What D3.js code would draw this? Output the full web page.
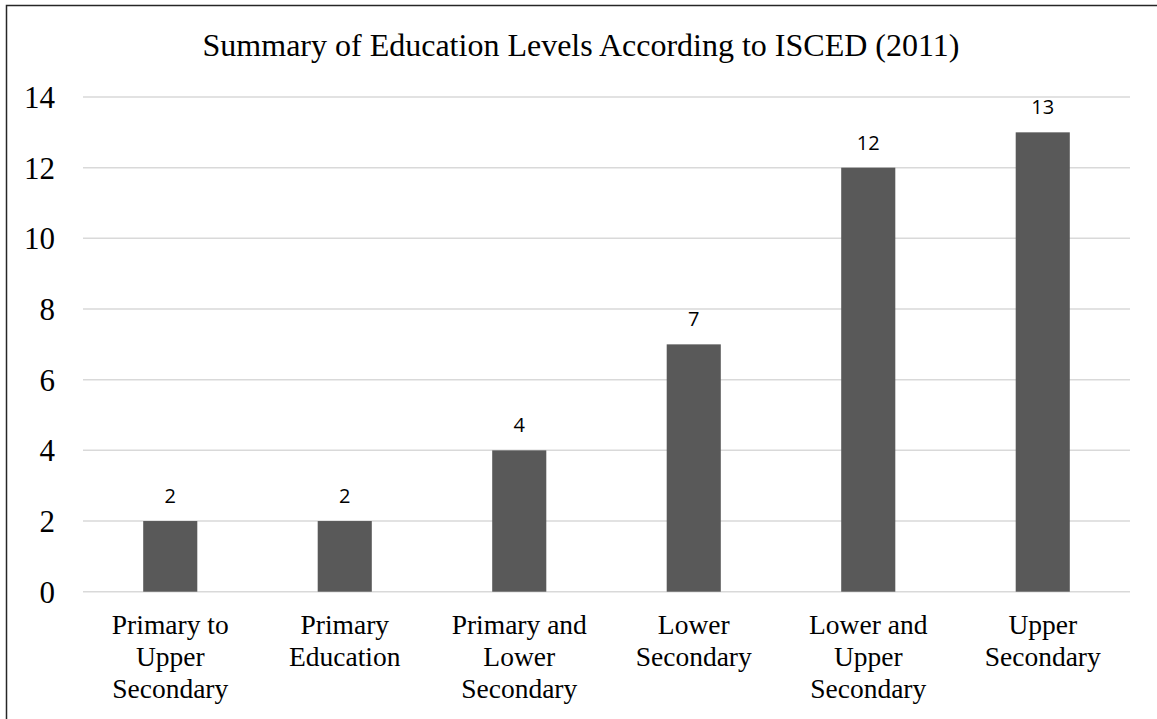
<!DOCTYPE html>
<html>
<head>
<meta charset="utf-8">
<script src="https://cdn.jsdelivr.net/npm/d3@7"></script>
<style>
  html, body { margin: 0; padding: 0; background: #fff; }
  svg { display: block; }
</style>
</head>
<body>
<svg id="chart" width="1157" height="719"></svg>
<script>
// Education level categories (ISCED 2011) and their counts
const categories = [
  ["Primary to", "Upper", "Secondary"],
  ["Primary", "Education"],
  ["Primary and", "Lower", "Secondary"],
  ["Lower", "Secondary"],
  ["Lower and", "Upper", "Secondary"],
  ["Upper", "Secondary"]
];
const values = [2, 2, 4, 7, 12, 13];
const yTicks = [0, 2, 4, 6, 8, 10, 12, 14];
const titleText = "Summary of Education Levels According to ISCED (2011)";

const W = 1157, H = 719;
const plot = { left: 83, right: 1130, top: 97, bottom: 591.7 };
const serif = "'Liberation Serif', 'Times New Roman', serif";

const svg = d3.select("#chart");

// outer frame (left and top edges)
svg.append("path")
  .attr("d", `M6.5,${H} L6.5,5.5 L${W},5.5`)
  .attr("fill", "none")
  .attr("stroke", "#262626")
  .attr("stroke-width", 1.5);

const idx = categories.map((d, i) => i);
const x = d3.scaleBand()
  .domain(idx)
  .range([plot.left, plot.right])
  .paddingInner(0.69)
  .paddingOuter(0.345);

const y = d3.scaleLinear()
  .domain([0, 14])
  .range([plot.bottom, plot.top]);

// title
svg.append("text")
  .attr("x", 581)
  .attr("y", 56)
  .attr("text-anchor", "middle")
  .style("font-family", serif)
  .style("font-size", "32px")
  .attr("fill", "#000")
  .text(titleText);

// gridlines
svg.append("g")
  .selectAll("line")
  .data(yTicks)
  .join("line")
  .attr("x1", plot.left)
  .attr("x2", plot.right)
  .attr("y1", d => y(d))
  .attr("y2", d => y(d))
  .attr("stroke", "#d9d9d9")
  .attr("stroke-width", 1.5);

// y axis labels
const yAxis = d3.axisLeft(y).tickValues(yTicks).tickSize(0).tickPadding(0).tickFormat(d3.format("d"));
const yg = svg.append("g")
  .attr("transform", "translate(55,0)")
  .call(yAxis);
yg.select(".domain").remove();
yg.selectAll("text")
  .style("font-family", serif)
  .style("font-size", "31px")
  .attr("fill", "#000")
  .attr("dy", "0.34em");

// bars
svg.append("g")
  .selectAll("rect")
  .data(values)
  .join("rect")
  .attr("x", (d, i) => x(i))
  .attr("width", x.bandwidth())
  .attr("y", d => y(d))
  .attr("height", d => y(0) - y(d))
  .attr("fill", "#595959");

// value labels
svg.append("g")
  .selectAll("text")
  .data(values)
  .join("text")
  .attr("x", (d, i) => x(i) + x.bandwidth() / 2)
  .attr("y", d => y(d) - 18)
  .attr("text-anchor", "middle")
  .style("font-family", "'Open Sans', 'Liberation Sans', sans-serif")
  .style("font-size", "20px")
  .attr("fill", "#000")
  .text(d => d);

// category labels
const xl = svg.append("g")
  .selectAll("text")
  .data(categories)
  .join("text")
  .attr("x", (d, i) => x(i) + x.bandwidth() / 2)
  .attr("y", 634)
  .attr("text-anchor", "middle")
  .style("font-family", serif)
  .style("font-size", "27.5px")
  .attr("fill", "#000");
xl.each(function (lines, i) {
  const t = d3.select(this);
  const cx = x(i) + x.bandwidth() / 2;
  lines.forEach((ln, k) => {
    t.append("tspan").attr("x", cx).attr("dy", k === 0 ? 0 : 32).text(ln);
  });
});
</script>
</body>
</html>
